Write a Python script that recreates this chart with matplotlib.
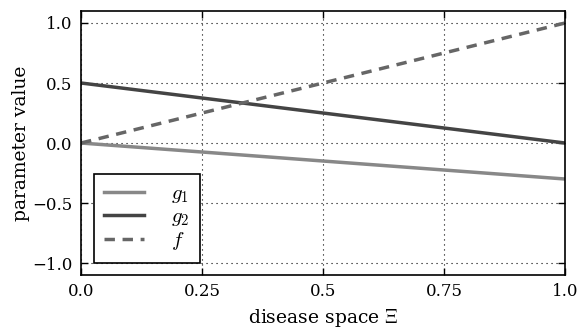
import matplotlib
matplotlib.use('Agg')
import matplotlib.pyplot as plt

# data
xs = [0.0, 1.0]
g1 = [0.0, -0.3]
g2 = [0.5, 0.0]
f = [0.0, 1.0]

xticks = [0.0, 0.25, 0.5, 0.75, 1.0]
xticklabels = ['0.0', '0.25', '0.5', '0.75', '1.0']
yticks = [-1.0, -0.5, 0.0, 0.5, 1.0]
yticklabels = ['\u22121.0', '\u22120.5', '0.0', '0.5', '1.0']

plt.rcParams['font.family'] = ['DejaVu Serif']
plt.rcParams['mathtext.fontset'] = 'cm'
plt.rcParams['font.size'] = 12

fig = plt.figure(figsize=(5.79, 3.29), dpi=100)
ax = fig.add_axes([0.14, 0.164, 0.836, 0.8026])

ax.plot(xs, g1, color='#888888', lw=2.5, label='$g_1$')
ax.plot(xs, g2, color='#444444', lw=2.5, label='$g_2$')
ax.plot(xs, f, color='#666666', lw=2.5, ls=(0, (3, 2.2)), label='$f$')

ax.set_xlim(0, 1)
ax.set_ylim(-1.1, 1.1)
ax.set_xticks(xticks)
ax.set_xticklabels(xticklabels)
ax.set_yticks(yticks)
ax.set_yticklabels(yticklabels)
ax.tick_params(direction='in', top=True, right=True, length=5, width=1, pad=6)
for s in ax.spines.values():
    s.set_linewidth(1.2)

ax.grid(True, color='black', linestyle=(0, (1, 3.5)), linewidth=0.8)

ax.set_xlabel('disease space $\\Xi$', fontsize=13.5, labelpad=5)
ax.set_ylabel('parameter value', fontsize=13.5, labelpad=2)

leg = ax.legend(loc='lower left', fontsize=15, handlelength=1.9, handletextpad=1.3,
                fancybox=False, framealpha=1, edgecolor='black', borderpad=0.5,
                labelspacing=0.1, borderaxespad=0.6)
leg.get_frame().set_linewidth(1.2)

fig.savefig('out.png', dpi=100)
